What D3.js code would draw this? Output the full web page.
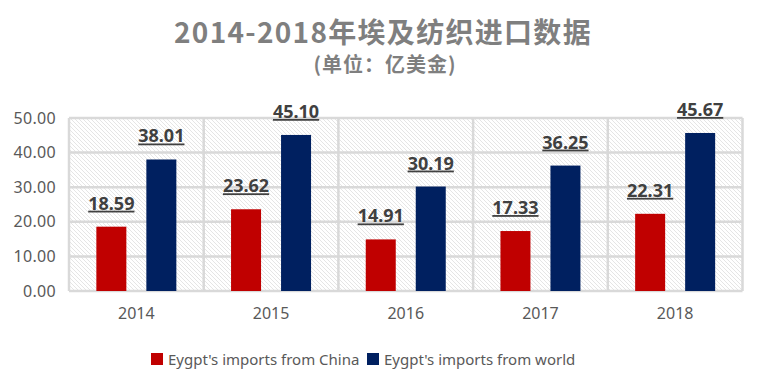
<!DOCTYPE html>
<html><head><meta charset="utf-8">
<script src="https://cdn.jsdelivr.net/npm/d3@7"></script>
<style>body{margin:0;background:#fff}</style>
</head><body>
<svg id="c" width="766" height="390"></svg>
<script>
const categories = ["2014","2015","2016","2017","2018"];
const chinaValues = [18.59, 23.62, 14.91, 17.33, 22.31];
const worldValues = [38.01, 45.10, 30.19, 36.25, 45.67];
const yTicks = [0,10,20,30,40,50];
const seriesNames = ["Eygpt's imports from China","Eygpt's imports from world"];
const colors = ["#C00000","#002060"];

const svg = d3.select("#c");
const L=69, R=742.5, T=118, B=291;
const x = d3.scaleBand().domain(categories).range([L,R]);
const y = d3.scaleLinear().domain([0,50]).range([B,T]);

const defs = svg.append("defs");
const pat = defs.append("pattern").attr("id","hatch").attr("patternUnits","userSpaceOnUse")
  .attr("width",4).attr("height",4);
pat.append("rect").attr("width",4).attr("height",4).attr("fill","#fff");
pat.append("path").attr("d","M-1,-1 L5,5 M-1,3 L1,5 M3,-1 L5,1").attr("stroke","#e2e2e2").attr("stroke-width",0.9);

svg.append("rect").attr("x",L).attr("y",T).attr("width",R-L).attr("height",B-T).attr("fill","url(#hatch)");

// gridlines
svg.append("g").selectAll("line").data(yTicks).join("line")
  .attr("x1",L).attr("x2",R).attr("y1",d=>y(d)).attr("y2",d=>y(d))
  .attr("stroke","#d9d9d9").attr("stroke-width",2.5);
svg.append("g").selectAll("line").data(categories.concat(["end"])).join("line")
  .attr("x1",(d,i)=>L+i*x.bandwidth()).attr("x2",(d,i)=>L+i*x.bandwidth())
  .attr("y1",T).attr("y2",B).attr("stroke","#d9d9d9").attr("stroke-width",2.5);

const bw = 30, off = 25;
const series = [chinaValues, worldValues];
series.forEach((vals,si)=>{
  const g = svg.append("g");
  const cx = (d,i)=>x(categories[i])+x.bandwidth()/2+(si===0?-off:off);
  g.selectAll("rect").data(vals).join("rect")
    .attr("x",(d,i)=>cx(d,i)-bw/2).attr("width",bw)
    .attr("y",d=>y(d)).attr("height",d=>y(0)-y(d)).attr("fill",colors[si]);
  g.selectAll("text").data(vals).join("text")
    .attr("x",(d,i)=>cx(d,i)).attr("y",d=>y(d)-17)
    .attr("text-anchor","middle").attr("font-family","Noto Sans").attr("font-weight","bold")
    .attr("font-size",18).attr("fill","#404040").attr("text-decoration","underline")
    .text(d=>d.toFixed(2));
});

// y axis
const ya = svg.append("g").attr("transform",`translate(${L},0)`)
  .call(d3.axisLeft(y).tickValues(yTicks).tickSize(0).tickPadding(13).tickFormat(d=>d.toFixed(2)));
ya.select(".domain").remove();
ya.selectAll("text").attr("font-family","Noto Sans").attr("font-size",16).attr("fill","#595959").attr("letter-spacing",0.3);

// x axis
const xa = svg.append("g").attr("transform",`translate(0,${B})`)
  .call(d3.axisBottom(x).tickSize(0).tickPadding(17));
xa.select(".domain").remove();
xa.selectAll("text").attr("font-family","Noto Sans").attr("font-size",16).attr("fill","#595959");

// title
svg.append("text").attr("x",383).attr("y",43).attr("text-anchor","middle")
  .attr("font-family","Noto Sans CJK SC").attr("font-weight","bold").attr("font-size",28)
  .attr("letter-spacing",1.3).attr("fill","#7f7f7f").text("2014-2018年埃及纺织进口数据");
svg.append("text").attr("x",385).attr("y",72).attr("text-anchor","middle")
  .attr("font-family","Noto Sans CJK SC").attr("font-weight","bold").attr("font-size",20)
  .attr("letter-spacing",1).attr("fill","#7f7f7f").text("(单位：亿美金)");

// legend
const lg = svg.append("g");
const lx = [151, 367];
seriesNames.forEach((n,i)=>{
  lg.append("rect").attr("x",lx[i]).attr("y",353).attr("width",12).attr("height",12).attr("fill",colors[i]);
  lg.append("text").attr("x",lx[i]+17).attr("y",364.5).attr("font-family","Noto Sans")
    .attr("font-size",15).attr("fill","#595959").text(n);
});
</script>
</body></html>
